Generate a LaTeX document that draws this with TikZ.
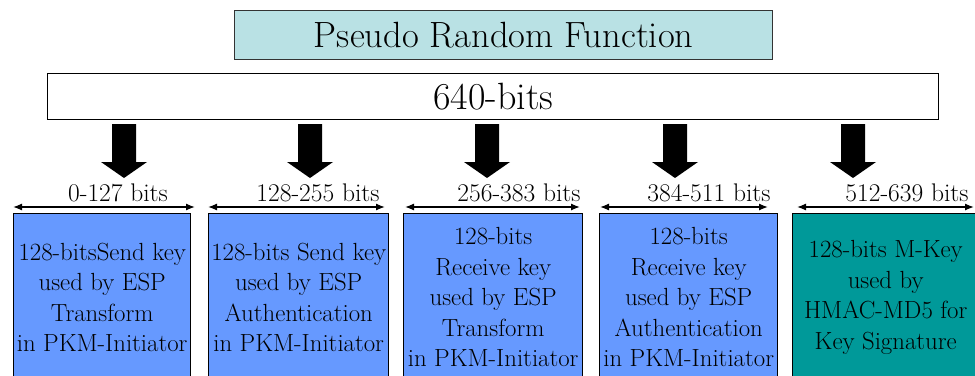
\documentclass[tikz,border=0pt]{standalone}
\usetikzlibrary{arrows.meta}
\definecolor{titlefill}{RGB}{185,225,228}
\definecolor{keyblue}{RGB}{102,153,255}
\definecolor{keyteal}{RGB}{0,153,153}
\begin{document}
\begin{tikzpicture}[x=1pt,y=-1pt,
  box/.style={draw=black, line width=1.4pt, anchor=north west, inner sep=0pt},
  bigtext/.style={text depth=0pt},
  keybox/.style={box, fill=keyblue, align=center, minimum height=167pt,
    font=\fontsize{24.8}{30.5}\selectfont},
  rangelabel/.style={anchor=base, inner sep=0pt, font=\fontsize{25.5}{28}\selectfont},
  dimline/.style={line width=1.3pt, {Latex[length=9pt,width=7pt]}-{Latex[length=9pt,width=7pt]}},
  blockarrow/.pic={\fill[black] (-12,0) -- (12,0) -- (12,38) -- (23,38) -- (0,54) -- (-23,38) -- (-12,38) -- cycle;}
]
\useasboundingbox (0,0) rectangle (975,375);
\clip (0,0) rectangle (975,375);
\fill[white] (0,0) rectangle (975,375);

% title and 640-bit box
\node[box, draw=black!80, fill=titlefill, bigtext, font=\fontsize{36.5}{40}\selectfont, minimum width=538pt, minimum height=49pt] (title) at (234,10) {Pseudo Random Function};
\node[box, fill=white, bigtext, font=\fontsize{38}{42}\selectfont, minimum width=891pt, minimum height=46pt] (bits) at (47,73) {640-bits};

% block arrows
\pic at (124,124) {blockarrow};
\pic at (310,124) {blockarrow};
\pic at (487,124) {blockarrow};
\pic at (675,124) {blockarrow};
\pic at (853,124) {blockarrow};

% key boxes
\node[keybox, minimum width=177pt] (k1) at (13,213) {128-bitsSend key\\used by ESP\\Transform\\in PKM-Initiator};
\node[keybox, minimum width=180pt] (k2) at (208,213) {128-bits Send key\\used by ESP\\Authentication\\in PKM-Initiator};
\node[keybox, minimum width=179pt] (k3) at (403,213) {128-bits\\Receive key\\used by ESP\\Transform\\in PKM-Initiator};
\node[keybox, minimum width=178pt] (k4) at (599,213) {128-bits\\Receive key\\used by ESP\\Authentication\\in PKM-Initiator};
\node[keybox, fill=keyteal, minimum width=186pt] (k5) at (792,213) {128-bits M-Key\\used by\\HMAC-MD5 for\\Key Signature};

% range arrows
\coordinate (l1) at (13,207);  \coordinate (r1) at (195,207);
\coordinate (l2) at (208,207); \coordinate (r2) at (385,207);
\coordinate (l3) at (405,207); \coordinate (r3) at (580,207);
\coordinate (l4) at (600,207); \coordinate (r4) at (768,207);
\coordinate (l5) at (797,207); \coordinate (r5) at (974,207);
\draw[dimline] (l1) -- (r1);
\draw[dimline] (l2) -- (r2);
\draw[dimline] (l3) -- (r3);
\draw[dimline] (l4) -- (r4);
\draw[dimline] (l5) -- (r5);

% range labels
\node[rangelabel] (b1) at (118,201) {0-127 bits};
\node[rangelabel] (b2) at (318,201) {128-255 bits};
\node[rangelabel] (b3) at (519,201) {256-383 bits};
\node[rangelabel] (b4) at (709,201) {384-511 bits};
\node[rangelabel] (b5) at (907,201) {512-639 bits};
\end{tikzpicture}
\end{document}
